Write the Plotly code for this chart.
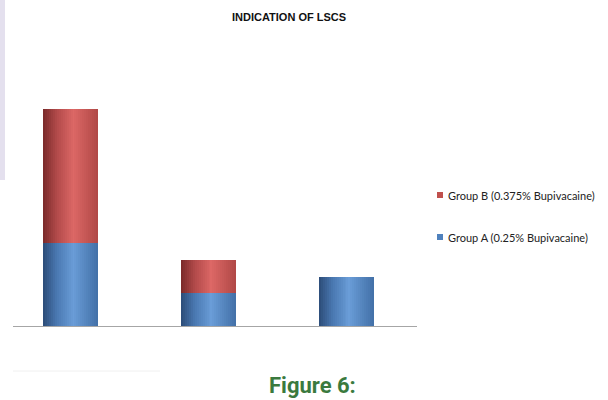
import plotly.graph_objects as go

# Indications for LSCS, counts per group
indications = ["Indication 1", "Indication 2", "Indication 3"]
group_a = [5, 2, 3]   # Group A (0.25% Bupivacaine)
group_b = [8, 2, 0]   # Group B (0.375% Bupivacaine)

name_a = "Group A (0.25% Bupivacaine)"
name_b = "Group B (0.375% Bupivacaine)"

xpos = list(range(len(indications)))
bar_w = 0.4

W, H = 608, 400
L, R, T, B = 13, 191, 95, 73
PW, PH = W - L - R, H - T - B


def px_x(px):
    return (px - L) / PW


def px_y(py):
    return (H - B - py) / PH


def hex_rgb(h):
    h = h.lstrip("#")
    return [int(h[i:i + 2], 16) for i in (0, 2, 4)]


def shade(stops, n):
    """Interpolate colour stops (position, hex) into n strip colours."""
    out = []
    for k in range(n):
        t = (k + 0.5) / n
        for (p0, c0), (p1, c1) in zip(stops[:-1], stops[1:]):
            if p0 <= t <= p1:
                f = (t - p0) / (p1 - p0)
                a, b = hex_rgb(c0), hex_rgb(c1)
                out.append("rgb(%d,%d,%d)" % tuple(round(a[i] + (b[i] - a[i]) * f) for i in range(3)))
                break
    return out


# Horizontal shading across each bar for a cylinder look
n = 28
blue_strips = shade([(0, "#2c4c78"), (0.25, "#4a79b2"), (0.55, "#6a9dd8"), (1, "#4270a7")], n)
red_strips = shade([(0, "#7a2a2a"), (0.25, "#b24a4a"), (0.55, "#dd6866"), (1, "#b04846")], n)
sw = bar_w / n

fig = go.Figure()

for k in range(n):
    off = -bar_w / 2 + k * sw
    fig.add_trace(go.Bar(
        x=xpos, y=group_a, width=[sw * 1.15] * len(xpos), offset=off,
        marker=dict(color=blue_strips[k], line=dict(width=0)),
        name=name_a, showlegend=False, hoverinfo="skip",
    ))
    fig.add_trace(go.Bar(
        x=xpos, y=group_b, base=group_a, width=[sw * 1.15] * len(xpos), offset=off,
        marker=dict(color=red_strips[k], line=dict(width=0)),
        name=name_b, showlegend=False, hoverinfo="skip",
    ))

fig.update_layout(
    width=W, height=H,
    margin=dict(l=L, r=R, t=T, b=B, autoexpand=False),
    paper_bgcolor="white", plot_bgcolor="white",
    barmode="overlay", bargap=0,
    showlegend=False,
    xaxis=dict(range=[-0.417, 2.511], showticklabels=False, ticks="",
               showgrid=False, zeroline=False, showline=False, fixedrange=True),
    yaxis=dict(range=[0, 13.83], showticklabels=False, ticks="", showgrid=False,
               zeroline=False, showline=False, fixedrange=True),
)

# Baseline of the chart
fig.add_shape(type="line", xref="x", yref="y", x0=-0.417, x1=2.511, y0=0, y1=0,
              line=dict(color="#a6a6a6", width=2))

# Title and caption
fig.add_annotation(text="<b>INDICATION OF LSCS</b>", x=px_x(289), y=px_y(17),
                   xref="paper", yref="paper", xanchor="center", yanchor="middle",
                   showarrow=False,
                   font=dict(family="Liberation Sans", size=11, color="#111"))
fig.add_annotation(text="<b>Figure 6:</b>", x=px_x(312), y=px_y(385),
                   xref="paper", yref="paper", xanchor="center", yanchor="middle",
                   showarrow=False,
                   font=dict(family="Roboto", size=22, color="#3a7a3e"))

# Legend: small colour squares with labels
for label, color, cy in [(name_b, "#c0504d", 195), (name_a, "#4f81bd", 237)]:
    fig.add_shape(type="rect", xref="paper", yref="paper",
                  x0=px_x(437), x1=px_x(443), y0=px_y(cy + 3), y1=px_y(cy - 3),
                  fillcolor=color, line=dict(width=0))
    fig.add_annotation(text=label, x=px_x(446), y=px_y(cy), xref="paper", yref="paper",
                       xanchor="left", yanchor="middle", showarrow=False,
                       font=dict(family="Lato", size=11, color="#222"))

# Faint page edge on the left and a faint rule below the chart
fig.add_shape(type="rect", xref="paper", yref="paper",
              x0=px_x(0), x1=px_x(5), y0=px_y(180), y1=px_y(0),
              fillcolor="#e4e0ee", line=dict(width=0), layer="below")
fig.add_shape(type="line", xref="paper", yref="paper",
              x0=px_x(13), x1=px_x(160), y0=px_y(371), y1=px_y(371),
              line=dict(color="#f0f0f0", width=1))

fig.write_html("out.html")
